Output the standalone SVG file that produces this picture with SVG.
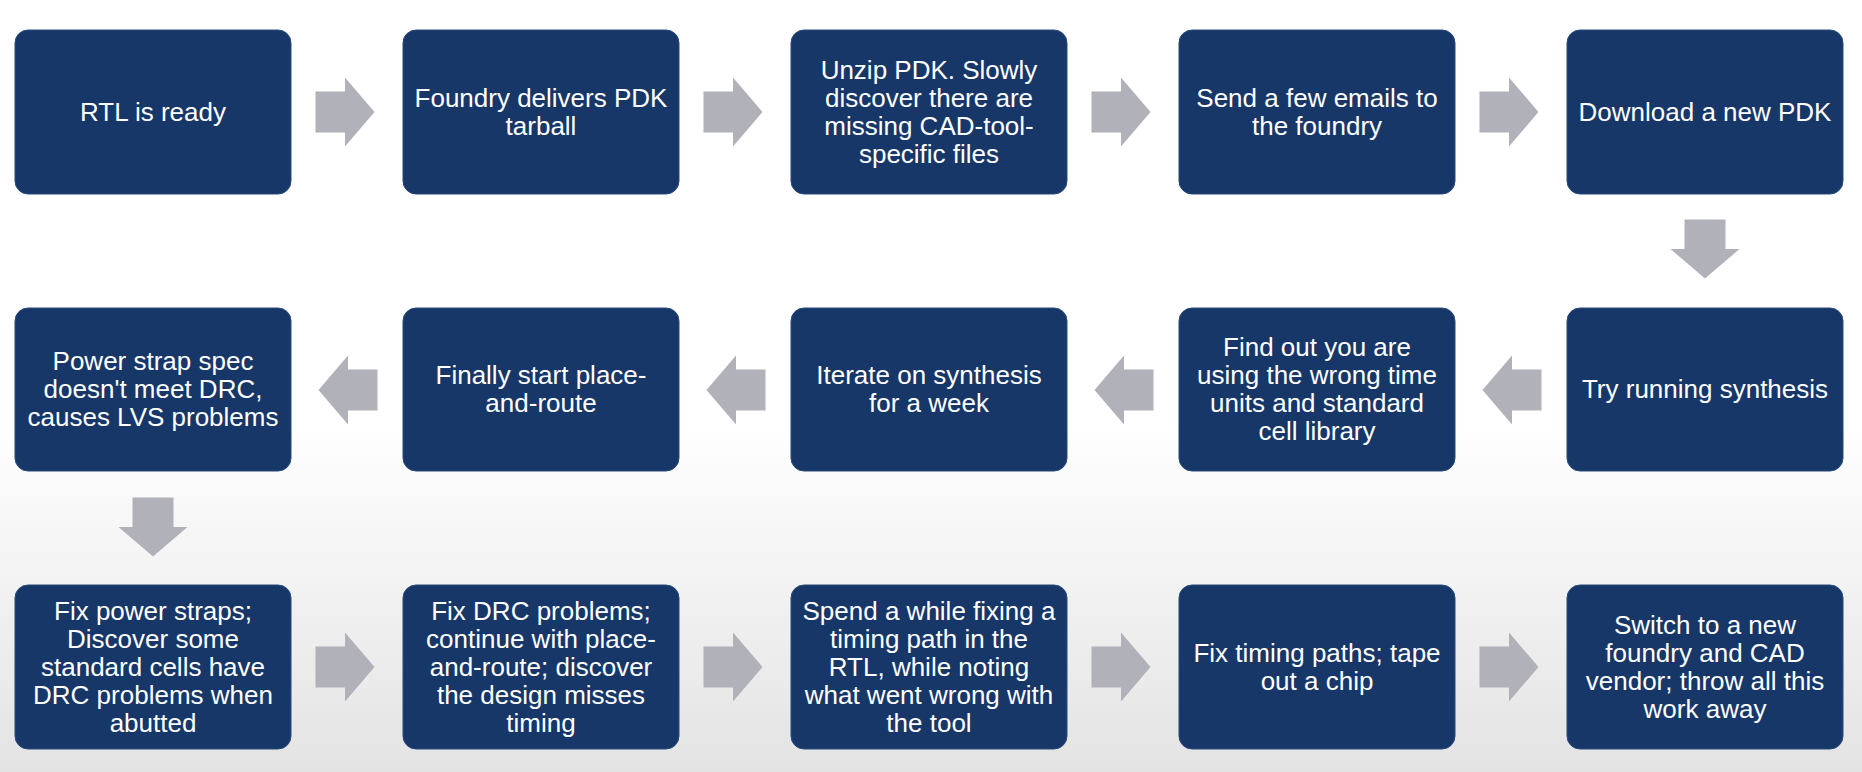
<svg xmlns="http://www.w3.org/2000/svg" xmlns:xlink="http://www.w3.org/1999/xlink" width="1862" height="772" viewBox="0 0 1862 772">
<defs>
<linearGradient id="bg" x1="0" y1="0" x2="0" y2="1">
<stop offset="0" stop-color="#ffffff"/>
<stop offset="0.55" stop-color="#ffffff"/>
<stop offset="1" stop-color="#e3e3e3"/>
</linearGradient>
<path id="ar" d="M-29.5,-20.5 H0 V-34.5 L29.5,0 L0,34.5 V20.5 H-29.5 Z" fill="#b1b2b9"/>
</defs>
<style>
.box{fill:#173769;stroke:#2a4a7c;stroke-width:1}
.t{font-family:"Liberation Sans",Arial,sans-serif;font-size:26px;fill:#ffffff;text-anchor:middle}
</style>
<rect width="1862" height="772" fill="url(#bg)"/>
<g id="connectors">
<use xlink:href="#ar" href="#ar" transform="translate(345,112)"/>
<use xlink:href="#ar" href="#ar" transform="translate(733,112)"/>
<use xlink:href="#ar" href="#ar" transform="translate(1121,112)"/>
<use xlink:href="#ar" href="#ar" transform="translate(1509,112)"/>
<use xlink:href="#ar" href="#ar" transform="translate(1705,249) rotate(90)"/>
<use xlink:href="#ar" href="#ar" transform="translate(1512,390) rotate(180)"/>
<use xlink:href="#ar" href="#ar" transform="translate(1124,390) rotate(180)"/>
<use xlink:href="#ar" href="#ar" transform="translate(736,390) rotate(180)"/>
<use xlink:href="#ar" href="#ar" transform="translate(348,390) rotate(180)"/>
<use xlink:href="#ar" href="#ar" transform="translate(153,527) rotate(90)"/>
<use xlink:href="#ar" href="#ar" transform="translate(345,667)"/>
<use xlink:href="#ar" href="#ar" transform="translate(733,667)"/>
<use xlink:href="#ar" href="#ar" transform="translate(1121,667)"/>
<use xlink:href="#ar" href="#ar" transform="translate(1509,667)"/>
</g>
<g id="n1"><rect class="box" x="15" y="30" width="276" height="164" rx="13"/>
<text class="t"><tspan x="153" y="121">RTL is ready</tspan></text></g>
<g id="n2"><rect class="box" x="403" y="30" width="276" height="164" rx="13"/>
<text class="t"><tspan x="541" y="107">Foundry delivers PDK</tspan><tspan x="541" y="135">tarball</tspan></text></g>
<g id="n3"><rect class="box" x="791" y="30" width="276" height="164" rx="13"/>
<text class="t"><tspan x="929" y="79">Unzip PDK. Slowly</tspan><tspan x="929" y="107">discover there are</tspan><tspan x="929" y="135">missing CAD-tool-</tspan><tspan x="929" y="163">specific files</tspan></text></g>
<g id="n4"><rect class="box" x="1179" y="30" width="276" height="164" rx="13"/>
<text class="t"><tspan x="1317" y="107">Send a few emails to</tspan><tspan x="1317" y="135">the foundry</tspan></text></g>
<g id="n5"><rect class="box" x="1567" y="30" width="276" height="164" rx="13"/>
<text class="t"><tspan x="1705" y="121">Download a new PDK</tspan></text></g>
<g id="n6"><rect class="box" x="1567" y="308" width="276" height="163" rx="13"/>
<text class="t"><tspan x="1705" y="398">Try running synthesis</tspan></text></g>
<g id="n7"><rect class="box" x="1179" y="308" width="276" height="163" rx="13"/>
<text class="t"><tspan x="1317" y="356">Find out you are</tspan><tspan x="1317" y="384">using the wrong time</tspan><tspan x="1317" y="412">units and standard</tspan><tspan x="1317" y="440">cell library</tspan></text></g>
<g id="n8"><rect class="box" x="791" y="308" width="276" height="163" rx="13"/>
<text class="t"><tspan x="929" y="384">Iterate on synthesis</tspan><tspan x="929" y="412">for a week</tspan></text></g>
<g id="n9"><rect class="box" x="403" y="308" width="276" height="163" rx="13"/>
<text class="t"><tspan x="541" y="384">Finally start place-</tspan><tspan x="541" y="412">and-route</tspan></text></g>
<g id="n10"><rect class="box" x="15" y="308" width="276" height="163" rx="13"/>
<text class="t"><tspan x="153" y="370">Power strap spec</tspan><tspan x="153" y="398">doesn't meet DRC,</tspan><tspan x="153" y="426">causes LVS problems</tspan></text></g>
<g id="n11"><rect class="box" x="15" y="585" width="276" height="164" rx="13"/>
<text class="t"><tspan x="153" y="620">Fix power straps;</tspan><tspan x="153" y="648">Discover some</tspan><tspan x="153" y="676">standard cells have</tspan><tspan x="153" y="704">DRC problems when</tspan><tspan x="153" y="732">abutted</tspan></text></g>
<g id="n12"><rect class="box" x="403" y="585" width="276" height="164" rx="13"/>
<text class="t"><tspan x="541" y="620">Fix DRC problems;</tspan><tspan x="541" y="648">continue with place-</tspan><tspan x="541" y="676">and-route; discover</tspan><tspan x="541" y="704">the design misses</tspan><tspan x="541" y="732">timing</tspan></text></g>
<g id="n13"><rect class="box" x="791" y="585" width="276" height="164" rx="13"/>
<text class="t"><tspan x="929" y="620">Spend a while fixing a</tspan><tspan x="929" y="648">timing path in the</tspan><tspan x="929" y="676">RTL, while noting</tspan><tspan x="929" y="704">what went wrong with</tspan><tspan x="929" y="732">the tool</tspan></text></g>
<g id="n14"><rect class="box" x="1179" y="585" width="276" height="164" rx="13"/>
<text class="t"><tspan x="1317" y="662">Fix timing paths; tape</tspan><tspan x="1317" y="690">out a chip</tspan></text></g>
<g id="n15"><rect class="box" x="1567" y="585" width="276" height="164" rx="13"/>
<text class="t"><tspan x="1705" y="634">Switch to a new</tspan><tspan x="1705" y="662">foundry and CAD</tspan><tspan x="1705" y="690">vendor; throw all this</tspan><tspan x="1705" y="718">work away</tspan></text></g>
</svg>
